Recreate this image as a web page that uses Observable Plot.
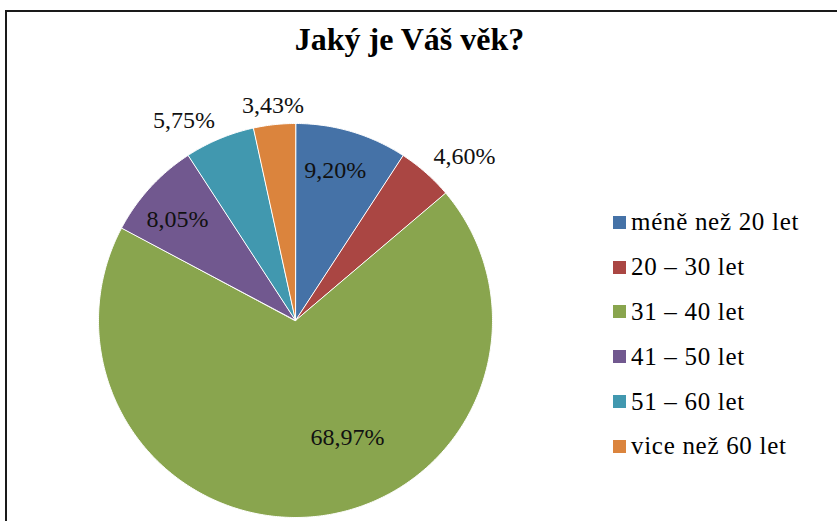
<!DOCTYPE html>
<html><head><meta charset="utf-8">
<script src="https://cdn.jsdelivr.net/npm/d3@7"></script>
<script src="https://cdn.jsdelivr.net/npm/@observablehq/plot@0.6"></script>
<style>
body{margin:0;background:#fff;}
#wrap{position:relative;width:837px;height:521px;overflow:hidden;font-family:"Liberation Serif","Times New Roman",serif;color:#000;}
#frame{position:absolute;left:5px;top:10px;width:900px;height:600px;border-left:2px solid #1a1a1a;border-top:2px solid #1a1a1a;}
#title{position:absolute;left:0;width:819px;top:23px;text-align:center;font-weight:bold;font-size:32px;line-height:32px;}
#chart{position:absolute;left:0;top:0;}
#legend{position:absolute;left:613px;top:200px;width:224px;}
#legend .lg-swatch{height:44.8px;padding:0;margin:0;display:flex;align-items:center;}
#legend .lg-swatch svg{margin-right:5px !important;}
#legend .lg-swatch-label{line-height:24px;font-size:25px;letter-spacing:0.7px;overflow:visible;font-family:"Liberation Serif","Times New Roman",serif;}
</style></head><body>
<div id="wrap"><div id="frame"></div><div id="chart"></div><div id="title">Jaký je Váš věk?</div><div id="legend"></div></div>
<script>
const categories = ["méně než 20 let", "20 – 30 let", "31 – 40 let", "41 – 50 let", "51 – 60 let", "vice než 60 let"];
const values = [9.20, 4.60, 68.97, 8.05, 5.75, 3.43];
const colors = ["#4572a7", "#aa4643", "#89a54e", "#71588f", "#4198af", "#db843d"];

const fmt = v => d3.format(".2f")(v).replace(".", ",") + "%";
const arcs = d3.pie().sort(null).value(d => d)(values);

// slice outlines in unit-circle coordinates
const pts = [];
arcs.forEach((a, i) => {
  const cat = categories[i];
  pts.push({x: 0, y: 0, cat});
  const n = Math.max(4, Math.ceil((a.endAngle - a.startAngle) / 0.01));
  for (let k = 0; k <= n; k++) {
    const t = a.startAngle + (a.endAngle - a.startAngle) * k / n;
    pts.push({x: Math.sin(t), y: Math.cos(t), cat});
  }
});

// labels
const inside = [], outside = [];
arcs.forEach((a, i) => {
  const v = values[i];
  const mid = (a.startAngle + a.endAngle) / 2;
  if (v >= 8) {
    const big = v > 50;
    const ang = big ? mid - 0.31 : mid - 0.03;
    const r = big ? 0.65 : 0.79;
    inside.push({x: r * Math.sin(ang), y: r * Math.cos(ang), text: fmt(v)});
  } else {
    const r = 1.06;
    const s = Math.sin(mid);
    outside.push({x: r * s, y: r * Math.cos(mid), text: fmt(v),
      anchor: s > 0.3 ? "start" : s < -0.3 ? "end" : "middle"});
  }
});

const font = "'Liberation Serif', 'Times New Roman', serif";
const chart = Plot.plot({
  width: 837, height: 521,
  marginLeft: 98, marginRight: 345, marginTop: 123, marginBottom: 4,
  x: {domain: [-1, 1], axis: null},
  y: {domain: [-1, 1], axis: null},
  color: {domain: categories, range: colors},
  style: {fontFamily: font, background: "transparent"},
  marks: [
    Plot.line(pts, {x: "x", y: "y", z: "cat", fill: "cat", stroke: "white", strokeWidth: 1, curve: "linear-closed"}),
    Plot.text(inside, {x: "x", y: "y", text: "text", fontSize: 24, fill: "#111", lineAnchor: "middle"}),
    Plot.text(outside.filter(d => d.anchor === "start"), {x: "x", y: "y", text: "text", fontSize: 24, fill: "#111", textAnchor: "start", lineAnchor: "bottom"}),
    Plot.text(outside.filter(d => d.anchor === "end"), {x: "x", y: "y", text: "text", fontSize: 24, fill: "#111", textAnchor: "end", lineAnchor: "bottom"}),
    Plot.text(outside.filter(d => d.anchor === "middle"), {x: "x", y: "y", text: "text", fontSize: 24, fill: "#111", textAnchor: "middle", lineAnchor: "bottom"})
  ]
});
document.getElementById("chart").appendChild(chart);

const legend = Plot.legend({
  color: {domain: categories, range: colors},
  legend: "swatches",
  columns: 1,
  swatchWidth: 13, swatchHeight: 13,
  className: "lg",
  style: {fontFamily: font, fontSize: "25px", color: "#000"}
});
document.getElementById("legend").appendChild(legend);
</script>
</body></html>
